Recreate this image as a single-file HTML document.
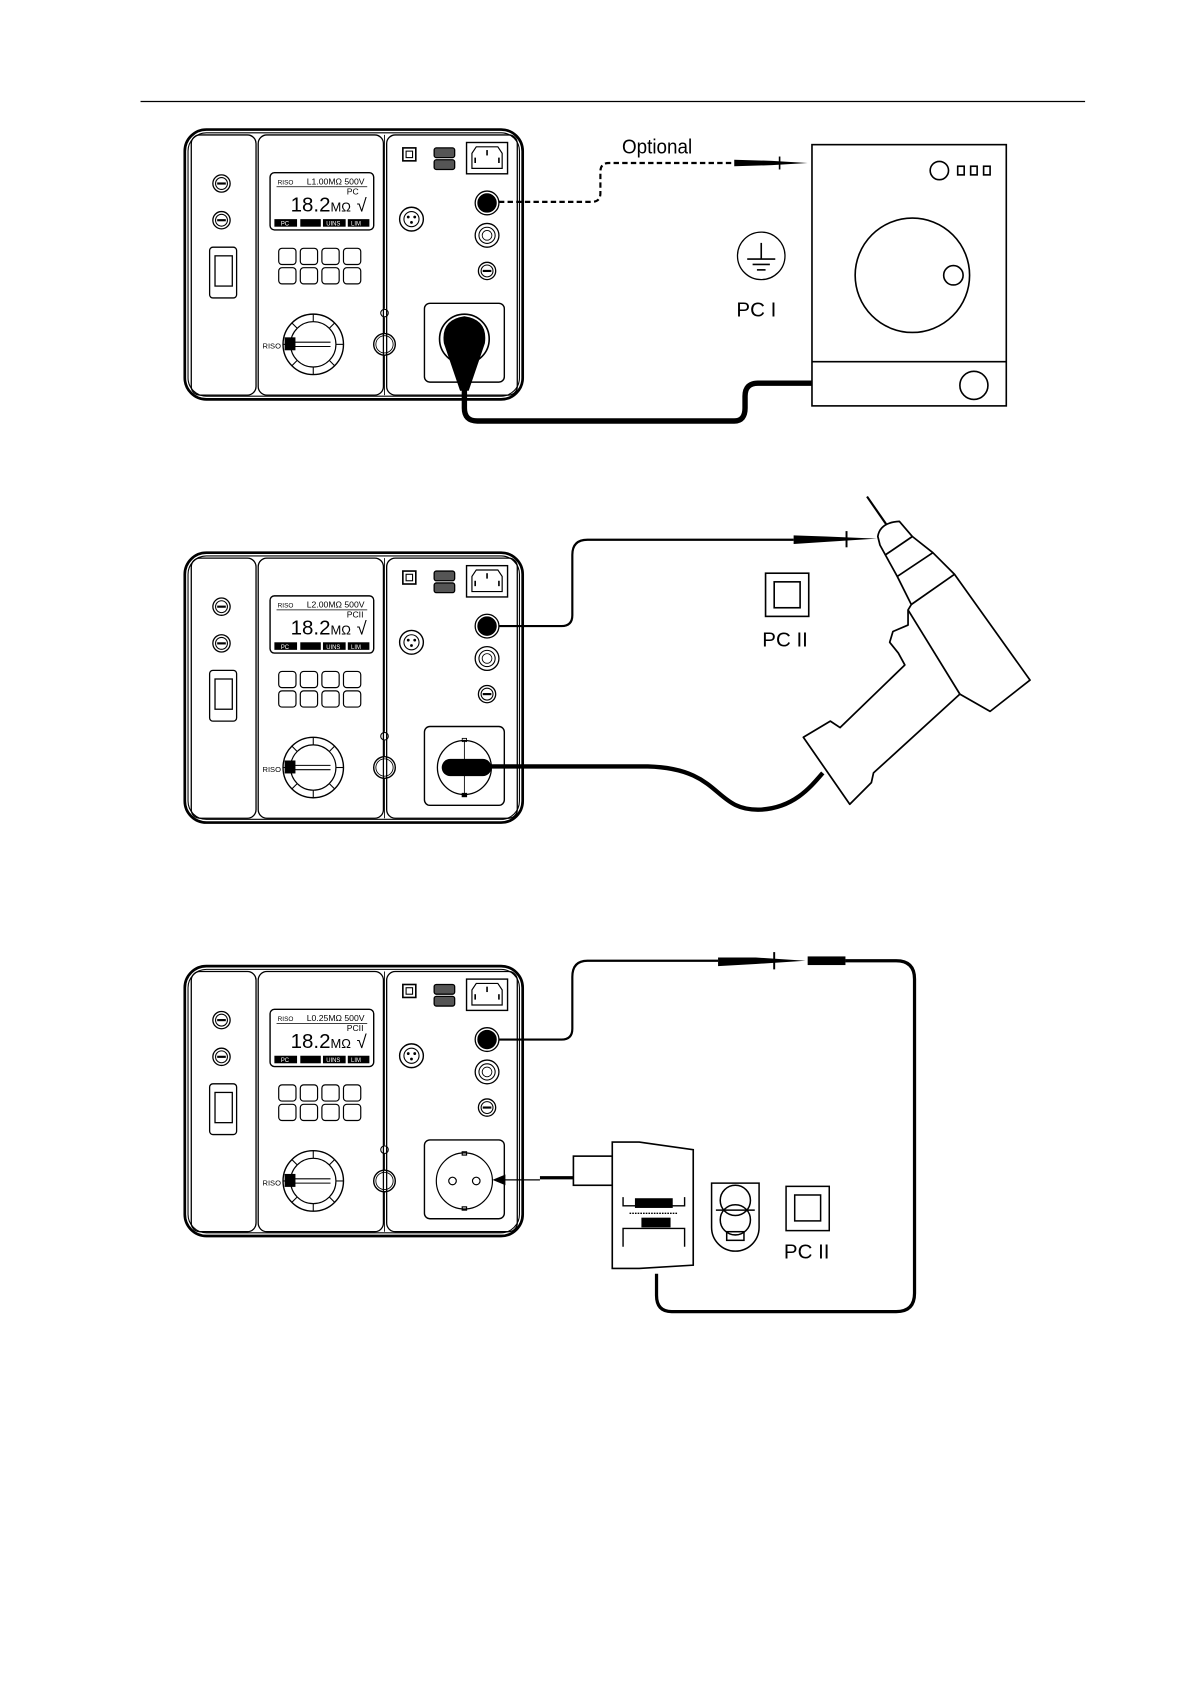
<!DOCTYPE html>
<html><head><meta charset="utf-8"><style>
html,body{margin:0;padding:0;background:#fff}
svg{display:block}
text{font-family:"Liberation Sans",sans-serif}
</style></head><body>
<svg width="1190" height="1684" viewBox="0 0 1102 1560" xmlns="http://www.w3.org/2000/svg">
<defs>
<g id="dev" fill="none" stroke="#000">
  <rect x="171" y="120" width="313" height="250" rx="20" stroke-width="2.5"/>
  <rect x="174" y="123" width="307" height="244" rx="17" stroke-width="1"/>
  <rect x="177" y="125" width="60" height="241" rx="8" stroke-width="1.2"/>
  <rect x="239" y="125" width="116" height="241" rx="8" stroke-width="1.2"/>
  <rect x="358" y="125" width="121" height="241" rx="8" stroke-width="1.2"/>
  <circle cx="205" cy="170" r="8" stroke-width="1.2"/><circle cx="205" cy="170" r="5.5" stroke-width="1"/><line x1="201" y1="170" x2="209" y2="170" stroke-width="2"/>
  <circle cx="205" cy="204" r="8" stroke-width="1.2"/><circle cx="205" cy="204" r="5.5" stroke-width="1"/><line x1="201" y1="204" x2="209" y2="204" stroke-width="2"/>
  <rect x="194" y="229" width="25" height="47" rx="3" stroke-width="1.2"/>
  <rect x="199" y="237" width="16" height="28" stroke-width="1.2"/>
  <rect x="250" y="160" width="96" height="53" rx="4" stroke-width="1.3"/>
  <line x1="256" y1="173" x2="340" y2="173" stroke-width="0.7"/>
  <g fill="#000" stroke="none"><rect x="254" y="203" width="21" height="7"/><rect x="278" y="203" width="19" height="7"/><rect x="299" y="203" width="21" height="7"/><rect x="322" y="203" width="20" height="7"/></g>
  <g stroke-width="1.1">
  <rect x="258" y="230" width="16" height="15" rx="3"/><rect x="278" y="230" width="16" height="15" rx="3"/><rect x="298" y="230" width="16" height="15" rx="3"/><rect x="318" y="230" width="16" height="15" rx="3"/>
  <rect x="258" y="248" width="16" height="15" rx="3"/><rect x="278" y="248" width="16" height="15" rx="3"/><rect x="298" y="248" width="16" height="15" rx="3"/><rect x="318" y="248" width="16" height="15" rx="3"/>
  </g>
  <circle cx="290" cy="319" r="28" stroke-width="1.3"/>
  <circle cx="290" cy="319" r="21" stroke-width="1.1"/>
  <g stroke-width="1"><line x1="290" y1="291" x2="290" y2="298"/><line x1="290" y1="340" x2="290" y2="347"/><line x1="262" y1="319" x2="269" y2="319"/><line x1="311" y1="319" x2="318" y2="319"/><line x1="270" y1="299" x2="275" y2="304"/><line x1="310" y1="299" x2="305" y2="304"/><line x1="270" y1="339" x2="275" y2="334"/><line x1="310" y1="339" x2="305" y2="334"/></g>
  <rect x="264" y="313" width="9" height="11" fill="#000"/>
  <line x1="273" y1="317" x2="306" y2="317" stroke-width="1"/><line x1="273" y1="321" x2="306" y2="321" stroke-width="1"/>
  <line x1="356" y1="125" x2="356" y2="286" stroke-width="0.8"/>
  <line x1="356" y1="294" x2="356" y2="309" stroke-width="0.8"/>
  <line x1="356" y1="329" x2="356" y2="366" stroke-width="0.8"/>
  <circle cx="356" cy="290" r="3.5" stroke-width="1"/>
  <circle cx="356" cy="319" r="10" stroke-width="1.3"/><circle cx="356" cy="319" r="8" stroke-width="0.8"/>
  <rect x="373" y="137" width="12" height="12" stroke-width="1.5"/><rect x="376" y="140" width="6" height="6" stroke-width="1"/>
  <rect x="402" y="137" width="19" height="9" rx="2" stroke-width="1.2" fill="#555"/><rect x="402" y="148" width="19" height="9" rx="2" stroke-width="1.2" fill="#555"/>
  <rect x="432" y="132" width="38" height="29" stroke-width="1.3"/>
  <path d="M437 156 V142 L441 136 H461 L465 142 V156 Z" stroke-width="1.1"/>
  <line x1="440" y1="146" x2="440" y2="151" stroke-width="1.5"/><line x1="451" y1="139" x2="451" y2="144" stroke-width="1.5"/><line x1="462" y1="146" x2="462" y2="151" stroke-width="1.5"/>
  <circle cx="381" cy="203" r="11" stroke-width="1.3"/><circle cx="381" cy="203" r="7" stroke-width="1"/>
  <circle cx="378" cy="201" r="0.8" fill="#000"/><circle cx="384" cy="201" r="0.8" fill="#000"/><circle cx="381" cy="206" r="0.8" fill="#000"/>
  <circle cx="451" cy="188" r="11" stroke-width="1.2"/><circle cx="451" cy="188" r="8.5" fill="#000"/>
  <circle cx="451" cy="218" r="11" stroke-width="1.2"/><circle cx="451" cy="218" r="7.5" stroke-width="1"/><circle cx="451" cy="218" r="4.5" stroke-width="0.8"/>
  <circle cx="451" cy="251" r="8" stroke-width="1.2"/><circle cx="451" cy="251" r="5.5" stroke-width="1"/><line x1="447" y1="251" x2="455" y2="251" stroke-width="2"/>
  <rect x="393" y="281" width="74" height="73" rx="5" stroke-width="1.3"/>
</g>
</defs>

<line x1="130" y1="94" x2="1005" y2="94" stroke="#000" stroke-width="1.2"/>

<!-- ===== Diagram 1 ===== -->
<use href="#dev"/>
<g font-size="7">
<text x="257" y="171" font-size="6">RISO</text><text x="284" y="171" font-size="8">L1.00MΩ  500V</text>
<text x="321" y="180" font-size="8">PC</text>
<text x="269" y="196" font-size="19">18.2<tspan font-size="12">MΩ</tspan> <tspan font-size="17">√</tspan></text>
<g fill="#fff" font-size="5.5"><text x="260" y="209">PC</text><text x="302" y="209">UINS</text><text x="325" y="209">LIM</text></g>
<text x="243" y="323" font-size="7">RISO</text>
</g>
<circle cx="430" cy="314" r="23" fill="none" stroke="#000" stroke-width="1.5"/>
<path d="M411 318 Q408 296 430 293 Q452 296 449 318 L434 362 H426 Z" fill="#000"/>
<path d="M430 355 V378 Q430 390 442 390 H680 Q690 390 690 378 V367 Q690 355 702 355 H752" fill="none" stroke="#000" stroke-width="5"/>
<path d="M462 187 H548 Q556 187 556 179 V159 Q556 151 564 151 H680" fill="none" stroke="#000" stroke-width="2" stroke-dasharray="5,3"/>
<path d="M680 148 L715 149 L748 151 L715 153 L680 154 Z" fill="#000"/>
<line x1="722" y1="145" x2="722" y2="157" stroke="#000" stroke-width="1.5"/>
<text x="576" y="142" font-size="19" textLength="65" lengthAdjust="spacingAndGlyphs">Optional</text>
<g fill="none" stroke="#000" stroke-width="1.5">
<rect x="752" y="134" width="180" height="242"/>
<line x1="752" y1="335" x2="932" y2="335"/>
<circle cx="845" cy="255" r="53"/>
<circle cx="883" cy="255" r="9"/>
<circle cx="870" cy="158" r="8.5"/>
<rect x="887" y="154" width="6" height="8"/><rect x="899" y="154" width="6" height="8"/><rect x="911" y="154" width="6" height="8"/>
<circle cx="902" cy="357" r="13"/>
<circle cx="705" cy="237" r="22" stroke-width="1.2"/>
<line x1="705" y1="225" x2="705" y2="240"/><line x1="692" y1="240" x2="718" y2="240"/><line x1="697" y1="245" x2="713" y2="245"/><line x1="701" y1="250" x2="709" y2="250"/>
</g>
<text x="682" y="293" font-size="19">PC I</text>

<!-- ===== Diagram 2 ===== -->
<use href="#dev" transform="translate(0,392)"/>
<g font-size="7" transform="translate(0,392)">
<text x="257" y="171" font-size="6">RISO</text><text x="284" y="171" font-size="8">L2.00MΩ  500V</text>
<text x="321" y="180" font-size="8">PCII</text>
<text x="269" y="196" font-size="19">18.2<tspan font-size="12">MΩ</tspan> <tspan font-size="17">√</tspan></text>
<g fill="#fff" font-size="5.5"><text x="260" y="209">PC</text><text x="302" y="209">UINS</text><text x="325" y="209">LIM</text></g>
<text x="243" y="323" font-size="7">RISO</text>
</g>
<g fill="none" stroke="#000">
<circle cx="430" cy="711" r="25" stroke-width="1.2"/>
<line x1="430" y1="686" x2="430" y2="736" stroke-width="0.8"/>
<rect x="428" y="684" width="4" height="3" stroke-width="0.8"/>
<rect x="428" y="735" width="4" height="3" fill="#000"/>
</g>
<rect x="409" y="703" width="46" height="16" rx="8" fill="#000"/>
<path d="M452 710 H600 C670 712 660 752 705 750 C735 748 750 730 762 716" fill="none" stroke="#000" stroke-width="4"/>
<path d="M462 580 H520 Q530 580 530 570 V514 Q530 500 544 500 H735" fill="none" stroke="#000" stroke-width="2"/>
<path d="M735 496 L765 497 L812 499 L765 502 L735 504 Z" fill="#000"/>
<line x1="784" y1="492" x2="784" y2="507" stroke="#000" stroke-width="1.8"/>
<g fill="#fff" stroke="#000" stroke-width="1.6" stroke-linejoin="round">
<path d="M813 497 Q815 484 833 483 L845 497 L864 512 L884 532 L954 630 L917 659 L889 643 L809 716 L807 725 L787 745 L744 683 L769 668 L778 674 L838 616 L832 605 L824 595 L827 585 L841 579 L841 565 L844 560 L831 534 L815 505 Z"/>
<line x1="820" y1="514" x2="845" y2="497"/>
<line x1="831" y1="534" x2="864" y2="512"/>
<line x1="844" y1="560" x2="884" y2="532"/>
<line x1="841" y1="565" x2="889" y2="643"/>
</g>
<line x1="803" y1="460" x2="821" y2="486" stroke="#000" stroke-width="2"/>
<g fill="none" stroke="#000" stroke-width="1.5"><rect x="709" y="531" width="40" height="40"/><rect x="717" y="539" width="24" height="24"/></g>
<text x="706" y="599" font-size="19">PC II</text>

<!-- ===== Diagram 3 ===== -->
<use href="#dev" transform="translate(0,775)"/>
<g font-size="7" transform="translate(0,775)">
<text x="257" y="171" font-size="6">RISO</text><text x="284" y="171" font-size="8">L0.25MΩ  500V</text>
<text x="321" y="180" font-size="8">PCII</text>
<text x="269" y="196" font-size="19">18.2<tspan font-size="12">MΩ</tspan> <tspan font-size="17">√</tspan></text>
<g fill="#fff" font-size="5.5"><text x="260" y="209">PC</text><text x="302" y="209">UINS</text><text x="325" y="209">LIM</text></g>
<text x="243" y="323" font-size="7">RISO</text>
</g>
<g fill="none" stroke="#000" stroke-width="1.1">
<circle cx="430" cy="1094" r="26"/>
<circle cx="419" cy="1094" r="3.5"/><circle cx="441" cy="1094" r="3.5"/>
<rect x="428" y="1067" width="4" height="3"/><rect x="428" y="1118" width="4" height="3"/>
</g>
<line x1="466" y1="1093" x2="500" y2="1093" stroke="#000" stroke-width="1.2"/>
<path d="M456 1093 L468 1088 L468 1098 Z" fill="#000"/>
<path d="M462 963 H520 Q530 963 530 953 V905 Q530 890 544 890 H665" fill="none" stroke="#000" stroke-width="2"/>
<path d="M665 887 L700 887 L746 890 L700 893 L665 895 Z" fill="#000"/>
<line x1="717" y1="882" x2="717" y2="898" stroke="#000" stroke-width="1.8"/>
<rect x="748" y="886" width="35" height="8" fill="#000"/>
<path d="M783 890 H830 Q847 890 847 907 V1198 Q847 1215 830 1215 H622 Q608 1215 608 1200 V1180" fill="none" stroke="#000" stroke-width="3"/>
<line x1="500" y1="1091" x2="531" y2="1091" stroke="#000" stroke-width="3"/>
<g fill="#fff" stroke="#000" stroke-width="1.5">
<rect x="531" y="1071" width="36" height="27"/>
<path d="M567 1058 H592 L642 1065 V1172 L592 1175 H567 Z"/>
</g>
<g fill="none" stroke="#000" stroke-width="1.3">
<path d="M577 1109 V1117 H634 V1109"/>
<path d="M577 1155 V1138 H634 V1155"/>
<line x1="583" y1="1124" x2="627" y2="1124" stroke-dasharray="1.5,1"/>
</g>
<rect x="588" y="1110" width="35" height="9" fill="#000"/>
<rect x="594" y="1128" width="27" height="9" fill="#000"/>
<g fill="none" stroke="#000" stroke-width="1.4">
<path d="M659 1096 H703 V1137 A22 22 0 0 1 659 1137 Z"/>
<circle cx="681" cy="1112" r="14"/><circle cx="681" cy="1130" r="14"/>
<line x1="663" y1="1121" x2="699" y2="1121"/>
<rect x="673" y="1141" width="16" height="8"/>
<rect x="728" y="1099" width="40" height="41"/><rect x="736" y="1107" width="24" height="24"/>
</g>
<text x="726" y="1166" font-size="19">PC II</text>
</svg>
</body></html>
